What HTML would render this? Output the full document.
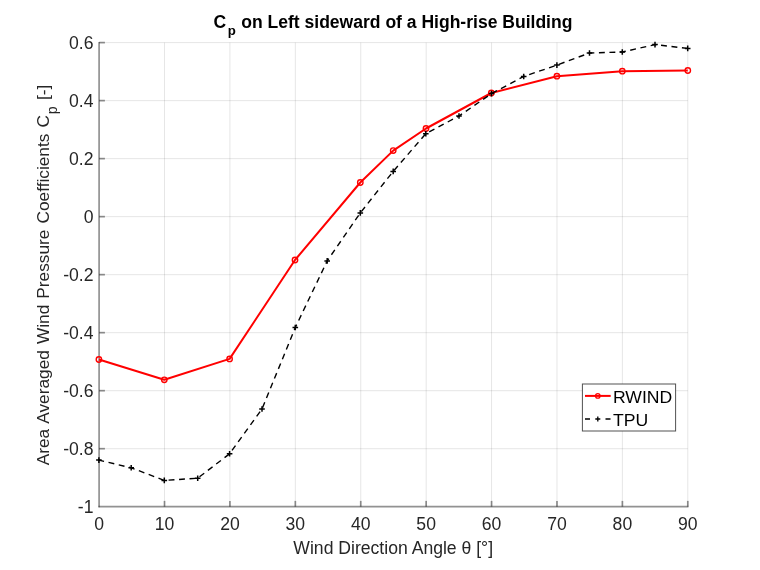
<!DOCTYPE html>
<html lang="en"><head><meta charset="utf-8"><title>Cp on Left sideward of a High-rise Building</title>
<style>html,body{margin:0;padding:0;background:#fff;}body{width:760px;height:570px;overflow:hidden;}svg{display:block;}text{font-family:"Liberation Sans", Arial, Helvetica, sans-serif;}</style>
</head><body>
<svg width="760" height="570" viewBox="0 0 760 570">
<rect x="0" y="0" width="760" height="570" fill="#ffffff"/>
<g stroke="#262626" stroke-opacity="0.115" stroke-width="1" fill="none">
<line x1="164.51" y1="42.60" x2="164.51" y2="506.70"/>
<line x1="229.92" y1="42.60" x2="229.92" y2="506.70"/>
<line x1="295.33" y1="42.60" x2="295.33" y2="506.70"/>
<line x1="360.74" y1="42.60" x2="360.74" y2="506.70"/>
<line x1="426.16" y1="42.60" x2="426.16" y2="506.70"/>
<line x1="491.57" y1="42.60" x2="491.57" y2="506.70"/>
<line x1="556.98" y1="42.60" x2="556.98" y2="506.70"/>
<line x1="622.39" y1="42.60" x2="622.39" y2="506.70"/>
<line x1="687.80" y1="42.60" x2="687.80" y2="506.70"/>
<line x1="99.10" y1="448.69" x2="687.80" y2="448.69"/>
<line x1="99.10" y1="390.68" x2="687.80" y2="390.68"/>
<line x1="99.10" y1="332.66" x2="687.80" y2="332.66"/>
<line x1="99.10" y1="274.65" x2="687.80" y2="274.65"/>
<line x1="99.10" y1="216.64" x2="687.80" y2="216.64"/>
<line x1="99.10" y1="158.62" x2="687.80" y2="158.62"/>
<line x1="99.10" y1="100.61" x2="687.80" y2="100.61"/>
<line x1="99.10" y1="42.60" x2="687.80" y2="42.60"/>
</g>
<g stroke="#262626" stroke-width="1.7" fill="none" stroke-opacity="0.5">
<line x1="99.10" y1="42.00" x2="99.10" y2="507.35"/>
<line x1="98.45" y1="506.70" x2="688.40" y2="506.70"/>
<line x1="164.51" y1="506.70" x2="164.51" y2="500.90"/>
<line x1="229.92" y1="506.70" x2="229.92" y2="500.90"/>
<line x1="295.33" y1="506.70" x2="295.33" y2="500.90"/>
<line x1="360.74" y1="506.70" x2="360.74" y2="500.90"/>
<line x1="426.16" y1="506.70" x2="426.16" y2="500.90"/>
<line x1="491.57" y1="506.70" x2="491.57" y2="500.90"/>
<line x1="556.98" y1="506.70" x2="556.98" y2="500.90"/>
<line x1="622.39" y1="506.70" x2="622.39" y2="500.90"/>
<line x1="687.80" y1="506.70" x2="687.80" y2="500.90"/>
<line x1="99.10" y1="448.69" x2="104.90" y2="448.69"/>
<line x1="99.10" y1="390.68" x2="104.90" y2="390.68"/>
<line x1="99.10" y1="332.66" x2="104.90" y2="332.66"/>
<line x1="99.10" y1="274.65" x2="104.90" y2="274.65"/>
<line x1="99.10" y1="216.64" x2="104.90" y2="216.64"/>
<line x1="99.10" y1="158.62" x2="104.90" y2="158.62"/>
<line x1="99.10" y1="100.61" x2="104.90" y2="100.61"/>
<line x1="99.10" y1="42.60" x2="104.90" y2="42.60"/>
</g>
<g font-size="17.6" fill="#262626">
<text x="99.10" y="529.8" text-anchor="middle">0</text>
<text x="164.51" y="529.8" text-anchor="middle">10</text>
<text x="229.92" y="529.8" text-anchor="middle">20</text>
<text x="295.33" y="529.8" text-anchor="middle">30</text>
<text x="360.74" y="529.8" text-anchor="middle">40</text>
<text x="426.16" y="529.8" text-anchor="middle">50</text>
<text x="491.57" y="529.8" text-anchor="middle">60</text>
<text x="556.98" y="529.8" text-anchor="middle">70</text>
<text x="622.39" y="529.8" text-anchor="middle">80</text>
<text x="687.80" y="529.8" text-anchor="middle">90</text>
<text x="93.5" y="513.30" text-anchor="end">-1</text>
<text x="93.5" y="455.29" text-anchor="end">-0.8</text>
<text x="93.5" y="397.28" text-anchor="end">-0.6</text>
<text x="93.5" y="339.26" text-anchor="end">-0.4</text>
<text x="93.5" y="281.25" text-anchor="end">-0.2</text>
<text x="93.5" y="223.24" text-anchor="end">0</text>
<text x="93.5" y="165.22" text-anchor="end">0.2</text>
<text x="93.5" y="107.21" text-anchor="end">0.4</text>
<text x="93.5" y="49.20" text-anchor="end">0.6</text>
</g>
<text x="393.2" y="553.5" font-size="17.6" fill="#262626" text-anchor="middle">Wind Direction Angle θ [°]</text>
<text transform="translate(48.6,465.3) rotate(-90)" font-size="17.3" word-spacing="1.2" fill="#262626" text-anchor="start">Area Averaged Wind Pressure Coefficients C<tspan dx="0.9" dy="8" font-size="14.3">p</tspan><tspan dx="0.3" dy="-8"> [-]</tspan></text>
<text x="392.9" y="27.5" font-size="17.55" font-weight="bold" fill="#000" text-anchor="middle">C<tspan dx="1.6" dy="7" font-size="13.2">p</tspan><tspan dx="0.6" dy="-7"> on Left sideward of a High-rise Building</tspan></text>
<polyline points="98.9,359.5 164.3,379.8 229.6,358.9 295.0,260.0 360.3,182.5 393.2,150.6 426.0,128.5 491.3,93.0 556.9,76.2 622.3,71.2 687.8,70.5" fill="none" stroke="#ff0000" stroke-width="2" stroke-linejoin="round"/>
<g stroke="#ff0000" stroke-width="1.4" fill="none">
<circle cx="98.9" cy="359.5" r="2.7"/>
<circle cx="164.3" cy="379.8" r="2.7"/>
<circle cx="229.6" cy="358.9" r="2.7"/>
<circle cx="295.0" cy="260.0" r="2.7"/>
<circle cx="360.3" cy="182.5" r="2.7"/>
<circle cx="393.2" cy="150.6" r="2.7"/>
<circle cx="426.0" cy="128.5" r="2.7"/>
<circle cx="491.3" cy="93.0" r="2.7"/>
<circle cx="556.9" cy="76.2" r="2.7"/>
<circle cx="622.3" cy="71.2" r="2.7"/>
<circle cx="687.8" cy="70.5" r="2.7"/>
</g>
<polyline points="98.9,460.1 131.2,467.8 164.3,480.4 197.7,478.2 229.6,453.8 262.0,409.0 295.3,327.5 327.2,260.9 360.3,212.9 393.2,171.4 425.8,133.7 459.0,116.0 491.5,93.6 523.7,76.5 556.9,65.1 589.5,53.0 622.3,52.0 655.0,44.6 687.7,48.4" fill="none" stroke="#000" stroke-width="1.4" stroke-dasharray="5.9 4.6" stroke-dashoffset="0.6"/>
<g stroke="#000" stroke-width="1.5" fill="none">
<path d="M96.1 460.1H101.7M98.9 457.3V462.9"/>
<path d="M128.4 467.8H134.0M131.2 465.0V470.6"/>
<path d="M161.5 480.4H167.1M164.3 477.6V483.2"/>
<path d="M194.9 478.2H200.5M197.7 475.4V481.0"/>
<path d="M226.8 453.8H232.4M229.6 451.0V456.6"/>
<path d="M259.2 409.0H264.8M262.0 406.2V411.8"/>
<path d="M292.5 327.5H298.1M295.3 324.7V330.3"/>
<path d="M324.4 260.9H330.0M327.2 258.1V263.7"/>
<path d="M357.5 212.9H363.1M360.3 210.1V215.7"/>
<path d="M390.4 171.4H396.0M393.2 168.6V174.2"/>
<path d="M423.0 133.7H428.6M425.8 130.9V136.5"/>
<path d="M456.2 116.0H461.8M459.0 113.2V118.8"/>
<path d="M488.7 93.6H494.3M491.5 90.8V96.4"/>
<path d="M520.9 76.5H526.5M523.7 73.7V79.3"/>
<path d="M554.1 65.1H559.7M556.9 62.3V67.9"/>
<path d="M586.7 53.0H592.3M589.5 50.2V55.8"/>
<path d="M619.5 52.0H625.1M622.3 49.2V54.8"/>
<path d="M652.2 44.6H657.8M655.0 41.8V47.4"/>
<path d="M684.9 48.4H690.5M687.7 45.6V51.2"/>
</g>
<rect x="582.4" y="384" width="93.2" height="47" fill="#ffffff" stroke="#262626" stroke-opacity="0.8" stroke-width="1"/>
<line x1="585" y1="395.9" x2="610.7" y2="395.9" stroke="#ff0000" stroke-width="2"/>
<circle cx="597.8" cy="395.9" r="2.2" fill="none" stroke="#ff0000" stroke-width="1.3"/>
<text transform="translate(612.9,403.2) scale(1,0.95)" font-size="17.6" fill="#000">RWIND</text>
<path d="M585 419H590M605.5 419H610.5" stroke="#000" stroke-width="1.4" fill="none"/>
<path d="M595.3 419H600.3M597.8 416.5V421.5" stroke="#000" stroke-width="1.3" fill="none"/>
<text transform="translate(612.9,425.6) scale(1,0.95)" font-size="17.6" fill="#000">TPU</text>
</svg>
</body></html>
